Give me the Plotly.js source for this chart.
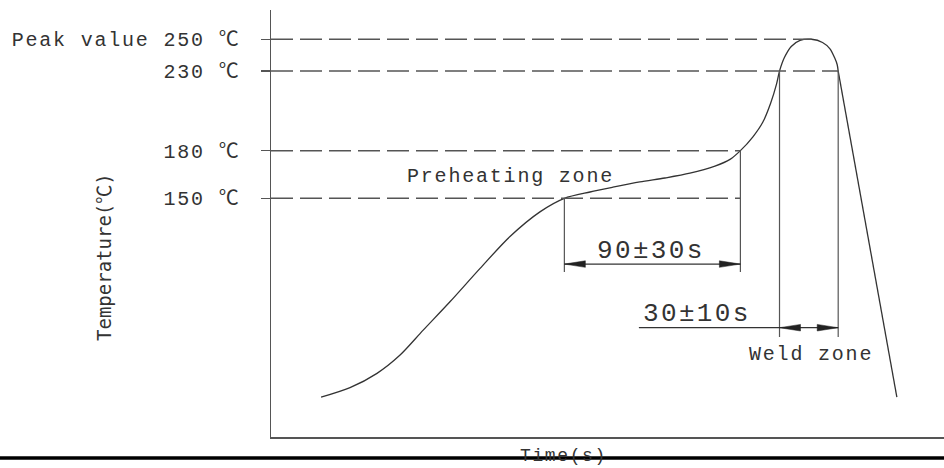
<!DOCTYPE html>
<html><head><meta charset="utf-8">
<script src="https://cdn.plot.ly/plotly-3.0.1.min.js"></script>
<style>
html,body{margin:0;padding:0;background:#fff;}
text[style*="Liberation Mono"]{letter-spacing:0.09em;}
</style></head>
<body><div id="chart" style="width:944px;height:468px;"></div>
<script>
// ---- data (time in s, temperature in °C) ----
const curveTime = [25.6, 40.4, 54.2, 66.0, 77.7, 91.5, 106.9, 122.2, 137.5, 150.0, 163.1, 174.8, 188.6, 201.4, 214.2, 227.0, 234.7, 240.0, 246.4, 251.5, 255.5, 258.5, 260.0, 262.5, 266.0, 270.5, 276.4, 282.0, 285.8, 288.3, 289.5, 290.0];
const curveTemp = [25, 31, 40, 51.5, 67, 85, 106, 126, 141.5, 150, 154, 157, 160.3, 162.8, 165.8, 170.3, 174.5, 180, 188.7, 198, 210, 222, 230, 238.5, 245.5, 249.3, 250, 248, 244, 238, 234, 230];
const coolTime = [290, 320];
const coolTemp = [230, 25];

const markTemps  = [150, 180, 230, 250];
const markLabels = ['150 ℃', '180 ℃', '230 ℃', 'Peak value 250 ℃'];
const markEnds   = [240, 240, 290, 276.4];

const preheatZone = [150, 240];      // 90±30s
const weldZone    = [260, 290];      // 30±10s
const preheatText = '90±30s';
const weldText    = '30±10s';
const preheatLabel = 'Preheating zone';
const weldLabel    = 'Weld zone';
const xTitle = 'Time(s)';
const yTitle = 'Temperature(℃)';

// ---- layout geometry ----
const W = 944, H = 468, ML = 271, MR = 0, MT = 10, MB = 31;
const PW = W - ML - MR, PH = H - MT - MB;
const xMax = 344.1, yMax = 268.4;
const sx = PW / xMax, sy = PH / yMax;          // px per unit
const px2paperX = p => (p - ML) / PW;
const px2paperY = p => (H - MB - p) / PH;

const FS = 'Liberation Mono, Noto Sans CJK SC';
const FU = 'DejaVu Sans Mono, Noto Sans CJK SC';
const INK = '#333333', GREY = '#555555';

const preDimT = 108.7, preExtBottom = 103.7;
const weldDimT = 68.7, weldExtBottom = 62.9, weldLeaderStart = 188.1;
const arrLen = 21 / sx, arrHalf = 3.3 / sy;

const shapes = [];
// dashed temperature reference lines
markTemps.forEach((t, i) => {
  shapes.push({type:'line', xref:'x', yref:'y', x0:0, x1:markEnds[i], y0:t, y1:t,
    line:{color:GREY, width:1.5, dash:'22px,7px'}});
});
// extension lines
function vline(x, y0, y1){ shapes.push({type:'line', xref:'x', yref:'y', x0:x, x1:x, y0:y0, y1:y1, line:{color:GREY, width:1.2}}); }
vline(preheatZone[0], 150, preExtBottom);
vline(preheatZone[1], 180, preExtBottom);
vline(weldZone[0], 230, weldExtBottom);
vline(weldZone[1], 230, weldExtBottom);
// dimension lines
shapes.push({type:'line', xref:'x', yref:'y', x0:preheatZone[0], x1:preheatZone[1], y0:preDimT, y1:preDimT, line:{color:INK, width:1.2}});
shapes.push({type:'line', xref:'x', yref:'y', x0:weldLeaderStart, x1:weldZone[1], y0:weldDimT, y1:weldDimT, line:{color:INK, width:1.2}});
// arrow heads (tips on extension lines, pointing outward)
function arrow(tip, y, dir){
  const b = tip + dir * arrLen;
  shapes.push({type:'path', xref:'x', yref:'y',
    path:`M${tip},${y} L${b},${y + arrHalf} L${b},${y - arrHalf} Z`,
    fillcolor:'#222', line:{color:'#222', width:0.5}});
}
arrow(preheatZone[0], preDimT, 1);
arrow(preheatZone[1], preDimT, -1);
arrow(weldZone[0], weldDimT, 1);
arrow(weldZone[1], weldDimT, -1);
// thick rule at the bottom of the page
shapes.push({type:'line', xref:'paper', yref:'paper', x0:px2paperX(0), x1:px2paperX(W), y0:px2paperY(458), y1:px2paperY(458),
  line:{color:'#000', width:3.5}});

const ann = (o) => Object.assign({showarrow:false, xanchor:'center', yanchor:'middle'}, o);
const annotations = [
  ann({xref:'x', yref:'y', x:122.7, y:164.0, text:preheatLabel, font:{family:FS, size:20, color:INK}}),
  ann({xref:'x', yref:'y', x:194.3, y:116.9, text:preheatText, font:{family:FS, size:26, color:INK}}),
  ann({xref:'x', yref:'y', x:217.8, y:77.3, text:weldText, font:{family:FS, size:26, color:INK}}),
  ann({xref:'x', yref:'y', x:276.3, y:51.9, text:weldLabel, font:{family:FS, size:20, color:INK}}),
  ann({xref:'paper', yref:'paper', x:px2paperX(563), y:px2paperY(455.5), text:xTitle, font:{family:FS, size:18, color:INK}}),
  ann({xref:'paper', yref:'paper', x:px2paperX(104), y:px2paperY(257), text:yTitle, textangle:-90, font:{family:FU, size:19, color:INK}})
];

const traces = [
  {type:'scatter', mode:'lines', x:curveTime, y:curveTemp, line:{color:INK, width:1.3, shape:'spline', smoothing:0.8}, hoverinfo:'skip', showlegend:false},
  {type:'scatter', mode:'lines', x:coolTime, y:coolTemp, line:{color:INK, width:1.3}, hoverinfo:'skip', showlegend:false}
];

const layout = {
  width:W, height:H,
  margin:{l:ML, r:MR, t:MT, b:MB, pad:0},
  paper_bgcolor:'#fff', plot_bgcolor:'#fff',
  showlegend:false,
  xaxis:{range:[0, xMax], showgrid:false, zeroline:false, showline:true, linecolor:GREY, linewidth:1.5,
         ticks:'', showticklabels:false, fixedrange:true},
  yaxis:{range:[0, yMax], showgrid:false, zeroline:false, showline:true, linecolor:GREY, linewidth:1.5,
         tickmode:'array', tickvals:markTemps, ticktext:markLabels,
         ticks:'outside', ticklen:9, tickwidth:1.5, tickcolor:GREY, ticklabelstandoff:16,
         tickfont:{family:FS, size:20, color:INK}, fixedrange:true},
  shapes:shapes,
  annotations:annotations
};

Plotly.newPlot('chart', traces, layout, {displayModeBar:false, staticPlot:true});
</script>
</body></html>
